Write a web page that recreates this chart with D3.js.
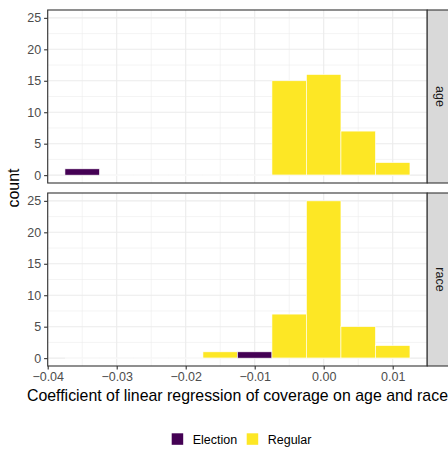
<!DOCTYPE html>
<html>
<head>
<meta charset="utf-8">
<script src="https://cdn.jsdelivr.net/npm/d3@7"></script>
<style>
  html, body { margin: 0; padding: 0; background: #fff; overflow: hidden; }
  text { font-family: 'Liberation Sans', Arial, sans-serif; }
</style>
</head>
<body>
<svg id="chart" width="448" height="449"></svg>
<script>
// bin centres (width 0.005)
const bins = [-0.035, -0.03, -0.025, -0.02, -0.015, -0.01, -0.005, 0, 0.005, 0.01];
const facets = ['age', 'race'];
const groups = ['Election', 'Regular'];
const ageElection = [1, 0, 0, 0, 0, 0, 0, 0, 0, 0];
const ageRegular = [0, 0, 0, 0, 0, 0, 15, 16, 7, 2];
const raceElection = [0, 0, 0, 0, 0, 1, 0, 0, 0, 0];
const raceRegular = [0, 0, 0, 0, 1, 0, 7, 25, 5, 2];
const xTicks = [-0.04, -0.03, -0.02, -0.01, 0, 0.01];
const yTicks = [0, 5, 10, 15, 20, 25];

const counts = {
  age: { Election: ageElection, Regular: ageRegular },
  race: { Election: raceElection, Regular: raceRegular }
};
const binWidth = 0.005;
const colors = { Election: '#440154', Regular: '#FDE725' };

const svg = d3.select('#chart');
const panelLeft = 47.7;
const panelRight = 427.2;
const panelTops = [10, 193];
const panelH = 173;
const stripW = 24;

const x = d3.scaleLinear().domain([-0.04, 0.015]).range([panelLeft, panelRight]);
const fmt = d => (d < 0 ? '\u2212' : '') + d3.format('.2f')(Math.abs(d));

facets.forEach((facet, fi) => {
  const top = panelTops[fi];
  const y = d3.scaleLinear().domain([-1.25, 26.25]).range([top + panelH, top]);
  const g = svg.append('g').attr('class', `panel-${facet}`);

  g.append('rect')
    .attr('x', panelLeft).attr('y', top)
    .attr('width', panelRight - panelLeft).attr('height', panelH)
    .attr('fill', '#fff');

  // minor grid
  const xMinor = d3.range(-0.035, 0.0151, 0.01);
  const yMinor = d3.range(2.5, 25, 5);
  g.selectAll('.xminor').data(xMinor).enter().append('line')
    .attr('x1', d => x(d)).attr('x2', d => x(d))
    .attr('y1', top).attr('y2', top + panelH)
    .attr('stroke', '#EBEBEB').attr('stroke-width', 0.55);
  g.selectAll('.yminor').data(yMinor).enter().append('line')
    .attr('x1', panelLeft).attr('x2', panelRight)
    .attr('y1', d => y(d)).attr('y2', d => y(d))
    .attr('stroke', '#EBEBEB').attr('stroke-width', 0.55);
  // major grid
  g.selectAll('.xmajor').data(xTicks).enter().append('line')
    .attr('x1', d => x(d)).attr('x2', d => x(d))
    .attr('y1', top).attr('y2', top + panelH)
    .attr('stroke', '#EBEBEB').attr('stroke-width', 1.1);
  g.selectAll('.ymajor').data(yTicks).enter().append('line')
    .attr('x1', panelLeft).attr('x2', panelRight)
    .attr('y1', d => y(d)).attr('y2', d => y(d))
    .attr('stroke', '#EBEBEB').attr('stroke-width', 1.1);

  // stacked bars
  const rows = bins.map((b, i) => {
    let base = 0;
    return groups.map(grp => {
      const n = counts[facet][grp][i];
      const r = { bin: b, group: grp, y0: base, y1: base + n };
      base += n;
      return r;
    });
  }).flat();

  g.selectAll('.bar').data(rows.filter(d => d.y1 > d.y0)).enter().append('rect')
    .attr('x', d => x(d.bin - binWidth / 2))
    .attr('width', d => x(d.bin + binWidth / 2) - x(d.bin - binWidth / 2))
    .attr('y', d => y(d.y1))
    .attr('height', d => y(d.y0) - y(d.y1))
    .attr('fill', d => colors[d.group])
    .attr('stroke', '#fff').attr('stroke-width', 0.6);

  // zero-height bins still draw a white outline
  g.selectAll('.zero').data(rows.filter(d => d.y1 === d.y0 && d.y0 === 0)).enter().append('line')
    .attr('x1', d => x(d.bin - binWidth / 2))
    .attr('x2', d => x(d.bin + binWidth / 2))
    .attr('y1', y(0)).attr('y2', y(0))
    .attr('stroke', '#fff').attr('stroke-width', 0.6);

  g.append('rect')
    .attr('x', panelLeft).attr('y', top)
    .attr('width', panelRight - panelLeft).attr('height', panelH)
    .attr('fill', 'none').attr('stroke', '#333333').attr('stroke-width', 1.1);

  // strip
  g.append('rect')
    .attr('x', panelRight).attr('y', top)
    .attr('width', stripW).attr('height', panelH)
    .attr('fill', '#D9D9D9').attr('stroke', '#333333').attr('stroke-width', 1.1);
  g.append('text')
    .attr('transform', `translate(${panelRight + 8.3},${top + panelH / 2}) rotate(90)`)
    .attr('text-anchor', 'middle')
    .attr('fill', '#1A1A1A')
    .style('font-size', '12.5px')
    .text(facet);

  // y axis
  const yAxis = g.append('g')
    .attr('transform', `translate(${panelLeft},0)`)
    .call(d3.axisLeft(y).tickValues(yTicks).tickSize(3.6).tickPadding(3));
  yAxis.select('.domain').remove();
  yAxis.selectAll('line').attr('stroke', '#333333').attr('stroke-width', 1.1);
  yAxis.selectAll('text').attr('fill', '#4D4D4D').style('font-size', '12.5px')
    .style('font-family', "'Liberation Sans', Arial, sans-serif");

  if (fi === 1) {
    const xAxis = g.append('g')
      .attr('transform', `translate(0,${top + panelH})`)
      .call(d3.axisBottom(x).tickValues(xTicks).tickFormat(fmt).tickSize(3.6).tickPadding(3));
    xAxis.select('.domain').remove();
    xAxis.selectAll('line').attr('stroke', '#333333').attr('stroke-width', 1.1);
    xAxis.selectAll('text').attr('fill', '#4D4D4D').style('font-size', '12.5px')
      .style('font-family', "'Liberation Sans', Arial, sans-serif");
  }
});

// axis titles
svg.append('text')
  .attr('x', (panelLeft + panelRight) / 2).attr('y', 400.5)
  .attr('text-anchor', 'middle').attr('fill', '#000')
  .style('font-size', '15.9px')
  .text('Coefficient of linear regression of coverage on age and race');
svg.append('text')
  .attr('transform', `translate(19,${(panelTops[0] + panelTops[1] + panelH) / 2}) rotate(-90)`)
  .attr('text-anchor', 'middle').attr('fill', '#000')
  .style('font-size', '15.9px')
  .text('count');

// legend
const legend = svg.append('g').attr('class', 'legend').attr('transform', 'translate(171.7,433.3)');
const legendX = [0, 75];
groups.forEach((grp, i) => {
  legend.append('rect')
    .attr('x', legendX[i]).attr('y', 0)
    .attr('width', 11.5).attr('height', 11.5)
    .attr('fill', colors[grp]);
  legend.append('text')
    .attr('x', legendX[i] + 21).attr('y', 10.8)
    .attr('fill', '#000')
    .style('font-size', '12.5px')
    .text(grp);
});
</script>
</body>
</html>
